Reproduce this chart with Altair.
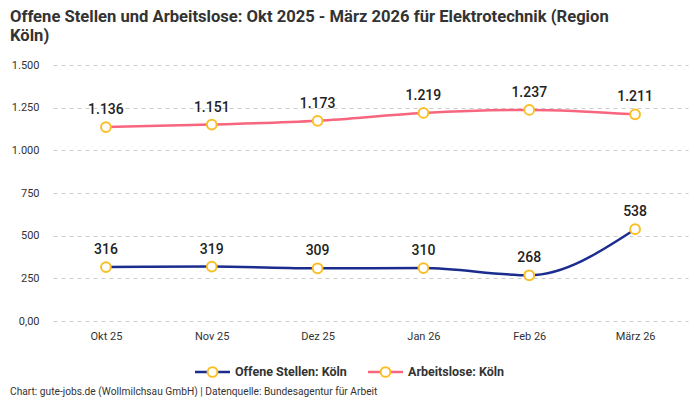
import altair as alt
import pandas as pd

months = ["Okt 25", "Nov 25", "Dez 25", "Jan 26", "Feb 26", "März 26"]
offene_stellen = [316, 319, 309, 310, 268, 538]
arbeitslose = [1136, 1151, 1173, 1219, 1237, 1211]
series = ["Offene Stellen: Köln", "Arbeitslose: Köln"]
colors = ["#1a2d8f", "#f7657e"]
y_ticks = [0, 250, 500, 750, 1000, 1250, 1500]

title_lines = [
    "Offene Stellen und Arbeitslose: Okt 2025 - März 2026 für Elektrotechnik (Region",
    "Köln)",
]
footer = "Chart: gute-jobs.de (Wollmilchsau GmbH) | Datenquelle: Bundesagentur für Arbeit"

FONT = "Roboto"
W, H = 635, 256


def de_num(v):
    return f"{v:,}".replace(",", ".")


rows = []
for name, vals in zip(series, [offene_stellen, arbeitslose]):
    for m, v in zip(months, vals):
        rows.append({"Monat": m, "Wert": v, "Serie": name, "Label": de_num(v)})
df = pd.DataFrame(rows)

x = alt.X(
    "Monat:N",
    sort=months,
    scale=alt.Scale(type="point", padding=0.5),
    axis=alt.Axis(
        title=None, labelAngle=0, domain=False, ticks=False, grid=False,
        labelFont=FONT, labelFontSize=11, labelColor="#333", labelPadding=9,
    ),
)
y = alt.Y(
    "Wert:Q",
    scale=alt.Scale(domain=[0, 1500], nice=False),
    axis=alt.Axis(
        title=None, values=y_ticks, domain=False, ticks=False,
        gridColor="#cccccc", gridDash=[4, 4], gridWidth=1,
        labelFont=FONT, labelFontSize=11, labelColor="#333", labelPadding=14,
        labelExpr="datum.value == 0 ? '0,00' : replace(format(datum.value, ','), ',', '.')",
    ),
)
color = alt.Color("Serie:N", scale=alt.Scale(domain=series, range=colors), legend=None)

base = alt.Chart(df).encode(x=x, y=y)

lines = base.mark_line(interpolate="monotone", strokeWidth=2.5).encode(color=color)
points = base.mark_point(
    shape="circle", filled=True, fill="white", stroke="#fbbf24", strokeWidth=2, size=95, opacity=1
)
labels = base.mark_text(
    dy=-17, font=FONT, fontSize=14, fontWeight=500, color="#222"
).encode(text="Label:N")

# custom legend below the plot
legend_layers = []
legend_x = [(142, 177, 182), (315, 350, 355)]
LY = 307
for name, c, (x1, x2, tx) in zip(series, colors, legend_x):
    d = alt.Chart(pd.DataFrame({"Serie": [name]}))
    legend_layers.append(
        d.mark_rule(color=c, strokeWidth=2.5).encode(
            x=alt.value(x1), x2=alt.value(x2), y=alt.value(LY)
        )
    )
    legend_layers.append(
        d.mark_point(shape="circle", filled=True, fill="white", stroke="#fbbf24",
                     strokeWidth=2, size=95, opacity=1).encode(
            x=alt.value((x1 + x2) / 2), y=alt.value(LY)
        )
    )
    legend_layers.append(
        d.mark_text(align="left", baseline="middle", font=FONT, fontSize=12.5,
                    fontWeight="bold", color="#333").encode(
            x=alt.value(tx), y=alt.value(LY), text="Serie:N"
        )
    )

foot = alt.Chart(pd.DataFrame({"t": [footer]})).mark_text(
    align="left", baseline="middle", font=FONT, fontSize=10.2, color="#333"
).encode(x=alt.value(-43), y=alt.value(327), text="t:N")

chart = (
    alt.layer(lines, points, labels, *legend_layers, foot)
    .properties(
        width=W,
        height=H,
        autosize=alt.AutoSizeParams(type="none"),
        padding={"left": 45, "top": 57, "right": 4, "bottom": 76},
        title=alt.Title(
            text=title_lines, anchor="start", frame="group", dx=-43, offset=14,
            font=FONT, fontSize=16.6, fontWeight="bold", color="#333", lineHeight=19,
        ),
    )
    .configure_view(stroke=None)
)

chart.save("out.html", embed_options={"renderer": "svg", "actions": False})
